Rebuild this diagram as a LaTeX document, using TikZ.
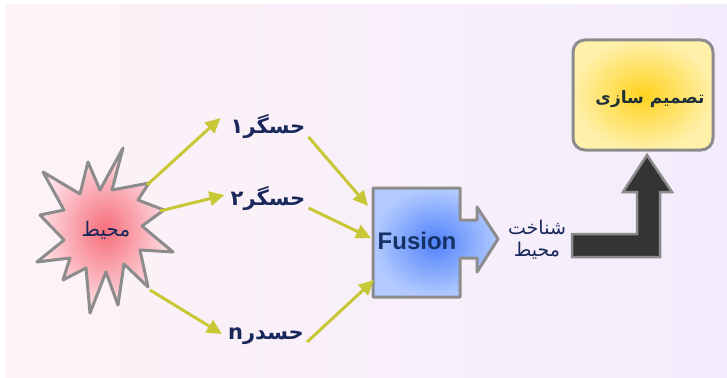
\documentclass[tikz,border=0pt]{standalone}
\usepackage{fontspec}
\usetikzlibrary{arrows.meta}
\TeXXeTstate=1
\newfontfamily\arabicfont[Script=Arabic]{DejaVu Sans}
\newfontfamily\latinsans{Liberation Sans}

\definecolor{bgleft}{RGB}{253,243,246}
\definecolor{bgright}{RGB}{243,236,253}
\definecolor{navy}{RGB}{25,40,90}
\definecolor{fusiontext}{RGB}{20,50,100}
\definecolor{dectext}{RGB}{30,48,55}
\definecolor{edgegray}{RGB}{140,140,140}
\definecolor{linkgreen}{RGB}{200,200,55}
\definecolor{starred}{RGB}{245,110,122}
\definecolor{starpale}{RGB}{255,228,234}
\definecolor{fusblue}{RGB}{80,130,250}
\definecolor{fuspale}{RGB}{178,202,255}
\definecolor{decgold}{RGB}{255,210,30}
\definecolor{decpale}{RGB}{255,240,170}
\definecolor{darkarrow}{RGB}{52,52,52}

\tikzset{
  link/.style={draw=linkgreen, line width=3pt,
    -{Triangle[length=15pt,width=14pt]}},
  label/.style={text=navy, inner sep=0pt, font=\arabicfont\bfseries\fontsize{21}{24}\selectfont},
  outline/.style={draw=edgegray, line width=3pt, line join=round},
}

\begin{document}
\begin{tikzpicture}[x=1pt,y=-1pt]
  \useasboundingbox (0,0) rectangle (727,377);
  % backdrop
  \fill[white] (0,0) rectangle (727,377);
  \shade[left color=bgleft, right color=bgright] (6,5) rectangle (727,377);

  % environment burst
  \shade[outline, inner color=starred, outer color=starpale]
    (123,148) -- (112,190) -- (149,183) -- (138,200) -- (164,210) -- (142,226)
    -- (173,252) -- (140,250) -- (148,287) -- (124,264) -- (118,305) -- (106,272)
    -- (90,313) -- (86,268) -- (63,280) -- (70,258) -- (37,262) -- (64,240)
    -- (40,215) -- (64,210) -- (43,172) -- (80,194) -- (88,162) -- (100,190) -- cycle;
  \node[text=navy, inner sep=0pt, font=\arabicfont\fontsize{20}{23}\selectfont]
    (env) at (106,230) {\beginR محیط\endR};

  % sensors
  \node[label] (s1) at (268,127) {\beginR حسگر\kern0pt ۱\endR};
  \node[label] (s2) at (268,199) {\beginR حسگر\kern0pt ۲\endR};
  \node[label] (sn) at (266,336) {\beginR حسدر\kern0pt n\endR};

  % fusion block with its outgoing arrow
  \shade[outline, inner color=fusblue, outer color=fuspale]
    (373,188) -- (460,188) -- (460,220) -- (477,220) -- (477,207) -- (498,239)
    -- (477,272) -- (477,258) -- (460,258) -- (460,297) -- (373,297) -- cycle;
  \node[text=fusiontext, inner sep=0pt, font=\latinsans\bfseries\fontsize{24}{28}\selectfont]
    (fus) at (417,241) {Fusion};

  % situation awareness
  \node[text=navy, inner sep=0pt, align=center,
        font=\arabicfont\fontsize{19}{22}\selectfont]
    (aware) at (537,240) {\beginR شناخت\endR\\\beginR محیط\endR};

  % decision making
  \shade[outline, rounded corners=12pt, inner color=decgold, outer color=decpale]
    (573,40) rectangle (713,150);
  \node[text=dectext, inner sep=0pt, font=\arabicfont\bfseries\fontsize{17}{20}\selectfont]
    (dec) at (650,99) {\beginR تصمیم سازی\endR};

  % bent arrow towards the decision box
  \filldraw[fill=darkarrow, draw=edgegray, line width=2.5pt, line join=miter]
    (572,234) -- (637,234) -- (637,192) -- (623,192) -- (647,155) -- (672,192)
    -- (660,192) -- (660,257) -- (572,257) -- cycle;

  % connector end points
  \coordinate (e1) at (147,185);
  \coordinate (e2) at (160,211);
  \coordinate (e3) at (150,290);
  \coordinate (f1) at (368,206);
  \coordinate (f2) at (371,238);
  \coordinate (f3) at (374,280);

  \draw[link] (e1) -- ([xshift=-10pt,yshift=9pt]s1.west);
  \draw[link] (e2) -- ([xshift=-6pt,yshift=4pt]s2.west);
  \draw[link] (e3) -- ([xshift=-6pt,yshift=2pt]sn.west);
  \draw[link] ([xshift=3pt,yshift=-10pt]s1.east) -- (f1);
  \draw[link] ([xshift=3pt,yshift=-9pt]s2.east) -- (f2);
  \draw[link] ([xshift=3pt,yshift=-6pt]sn.east) -- (f3);
\end{tikzpicture}
\end{document}
